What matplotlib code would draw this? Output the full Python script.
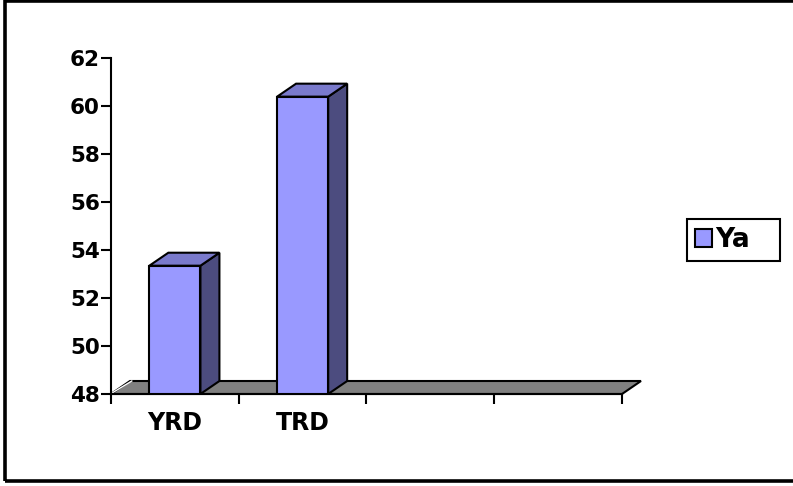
import matplotlib
matplotlib.use("Agg")
import matplotlib.pyplot as plt
from matplotlib.patches import Polygon, Rectangle, Patch

# Data
categories = ["YRD", "TRD", "", ""]
values = [53.35, 60.4]
series_name = "Ya"
y_ticks = [48, 50, 52, 54, 56, 58, 60, 62]

# Styling
FRONT = "#9999FF"
TOP = "#7A7ACC"
SIDE = "#4C4C7F"
FLOOR = "#808080"
DEPTH_PX = (19, 13)          # 3-D depth offset in pixels (right, up)
BAR_W = 0.4
FONT = "DejaVu Sans"

W, H = 793, 486
fig = plt.figure(figsize=(W / 100, H / 100), dpi=100)
fig.patch.set_facecolor("white")

# plot area in pixel units
left, right, base, top = 111, 622, 394, 58.3
ax = fig.add_axes([left / W, 1 - base / H, (right - left) / W, (base - top) / H])
ax.set_xlim(-0.5, len(categories) - 0.5)
ax.set_ylim(y_ticks[0], y_ticks[-1])
ax.set_facecolor("none")

# pixel depth offset -> data units
fig.canvas.draw()
x0d, y0d = ax.transData.transform((0, y_ticks[0]))
x1d, y1d = ax.transData.transform((1, y_ticks[1]))
dx = DEPTH_PX[0] / (x1d - x0d)
dy = DEPTH_PX[1] / ((y1d - y0d) / (y_ticks[1] - y_ticks[0]))

ymin = y_ticks[0]
xa, xb = -0.5, len(categories) - 0.5

# floor slab
floor = Polygon([(xa, ymin), (xb, ymin), (xb + dx, ymin + dy), (xa + dx, ymin + dy)],
                closed=True, facecolor=FLOOR, edgecolor="black", lw=1.5,
                clip_on=False, zorder=1)
ax.add_patch(floor)
ax.plot([xa + 0.014, xa + dx + 0.014], [ymin + 0.06, ymin + dy], color="white",
        lw=1.0, clip_on=False, zorder=1.5)

# 3-D columns
for i, v in enumerate(values):
    x0, x1 = i - BAR_W / 2, i + BAR_W / 2
    side = Polygon([(x1, ymin), (x1, v), (x1 + dx, v + dy), (x1 + dx, ymin + dy)],
                   closed=True, facecolor=SIDE, edgecolor="black", lw=1.5,
                   joinstyle="miter", zorder=3, clip_on=False)
    topf = Polygon([(x0, v), (x1, v), (x1 + dx, v + dy), (x0 + dx, v + dy)],
                   closed=True, facecolor=TOP, edgecolor="black", lw=1.5,
                   joinstyle="miter", zorder=3, clip_on=False)
    ax.add_patch(side)
    ax.add_patch(topf)
ax.bar(range(len(values)), [v - ymin for v in values], bottom=ymin, width=BAR_W,
       color=FRONT, edgecolor="black", linewidth=1.5, zorder=4)

# axes styling
for s in ("top", "right"):
    ax.spines[s].set_visible(False)
ax.spines["left"].set_linewidth(1.5)
ax.spines["bottom"].set_linewidth(1.5)
ax.spines["bottom"].set_zorder(2)

ax.set_yticks(y_ticks)
ax.set_yticklabels([str(t) for t in y_ticks], fontfamily=FONT, fontweight="bold",
                   fontsize=15.5)
ax.tick_params(axis="y", direction="out", length=7, width=1.5, pad=1)

bounds = [i - 0.5 for i in range(len(categories) + 1)]
ax.set_xticks(bounds)
ax.set_xticklabels([])
ax.set_xticks(range(len(categories)), minor=True)
ax.set_xticklabels(categories, minor=True, fontfamily=FONT, fontweight="bold",
                   fontsize=17)
ax.tick_params(axis="x", which="major", direction="out", length=7, width=1.5)
ax.tick_params(axis="x", which="minor", length=0, pad=12)

# legend
leg = fig.legend(handles=[Patch(facecolor=FRONT, edgecolor="black", lw=1.5)],
                 labels=[series_name], loc="center left",
                 bbox_to_anchor=(687.3 / W, 1 - 260 / H, 93 / W, 40 / H),
                 mode="expand", prop={"family": FONT, "weight": "bold", "size": 19},
                 handlelength=0.65, handleheight=0.65, handletextpad=0.12,
                 borderpad=0.3, borderaxespad=0, fancybox=False, frameon=True)
leg.get_frame().set_edgecolor("black")
leg.get_frame().set_linewidth(1.5)
leg.get_frame().set_alpha(1)

# chart border
fig.add_artist(Rectangle((5 / W, 1 - 481.3 / H), 830 / W, (481.3 - 1.5) / H,
                         transform=fig.transFigure, fill=False, edgecolor="black",
                         lw=2.6, clip_on=False))

fig.savefig("out.png", dpi=100)
